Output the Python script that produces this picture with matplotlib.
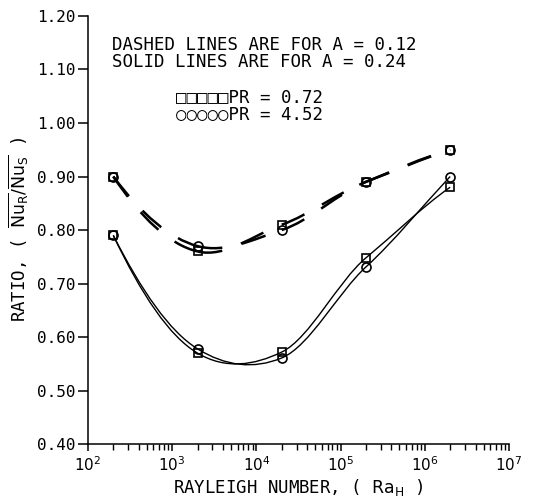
import numpy as np
import matplotlib.pyplot as plt
from matplotlib.path import Path
from matplotlib.patches import PathPatch
from matplotlib.ticker import FixedLocator, LogLocator, NullFormatter

plt.rcParams['font.family'] = ['DejaVu Sans Mono', 'DejaVu Sans']
plt.rcParams['mathtext.fontset'] = 'dejavusans'

# Rayleigh numbers of the runs
ra = [2e2, 2e3, 2e4, 2e5, 2e6]

# A = 0.12 (dashed)
dash_pr072 = [0.90, 0.76, 0.81, 0.89, 0.95]
dash_pr452 = [0.90, 0.77, 0.80, 0.89, 0.95]
# A = 0.24 (solid)
solid_pr072 = [0.79, 0.570, 0.572, 0.748, 0.880]
solid_pr452 = [0.79, 0.578, 0.561, 0.731, 0.900]

yticks = [0.40, 0.50, 0.60, 0.70, 0.80, 0.90, 1.00, 1.10, 1.20]
xticks = [1e2, 1e3, 1e4, 1e5, 1e6, 1e7]
xlabels = ['$10^{2}$', '$10^{3}$', '$10^{4}$', '$10^{5}$', '$10^{6}$', '$10^{7}$']


def smooth_curve(x, y, k=0.85):
    # hermite curve in log10(x) as bezier pieces; each piece is its own
    # subpath so the dash pattern restarts at every data point
    u = np.log10(x)
    y = np.asarray(y, dtype=float)
    d = np.diff(y) / np.diff(u)
    m = np.zeros_like(y)
    m[1:-1] = k * (d[:-1] + d[1:]) / 2
    m[0] = (3 * d[0] - d[1]) / 2
    m[-1] = (3 * d[-1] - d[-2]) / 2
    verts, codes = [], []
    for i in range(len(x) - 1):
        h = u[i + 1] - u[i]
        verts.append((x[i], y[i]))
        verts.append((10 ** (u[i] + h / 3), y[i] + m[i] * h / 3))
        verts.append((10 ** (u[i + 1] - h / 3), y[i + 1] - m[i + 1] * h / 3))
        verts.append((x[i + 1], y[i + 1]))
        codes += [Path.MOVETO] + [Path.CURVE4] * 3
    return Path(verts, codes)


fig = plt.figure(figsize=(5.33, 4.99), dpi=100)
ax = fig.add_axes([0.165, 0.110, 0.790, 0.858])
ax.set_xscale('log')
ax.set_xlim(1e2, 1e7)
ax.set_ylim(0.40, 1.20)

dashed = dict(linestyle=(0, (10, 8)), linewidth=1.8)
solid = dict(linestyle='-', linewidth=1.0)
for vals, style in [(dash_pr072, dashed), (dash_pr452, dashed),
                    (solid_pr072, solid), (solid_pr452, solid)]:
    ax.add_patch(PathPatch(smooth_curve(ra, vals), facecolor='none',
                           edgecolor='black', capstyle='butt', **style))

mk = dict(linestyle='none', color='black', markerfacecolor='none', markeredgewidth=1.2)
ax.plot(ra, dash_pr072, marker='s', markersize=6, **mk)
ax.plot(ra, solid_pr072, marker='s', markersize=6, **mk)
ax.plot(ra, dash_pr452, marker='o', markersize=6.5, **mk)
ax.plot(ra, solid_pr452, marker='o', markersize=6.5, **mk)

for s in ['top', 'right']:
    ax.spines[s].set_visible(False)
for s in ['left', 'bottom']:
    ax.spines[s].set_linewidth(1.1)

ax.yaxis.set_major_locator(FixedLocator(yticks))
ax.set_yticklabels(['%.2f' % v for v in yticks], fontsize=11.5)
ax.xaxis.set_major_locator(FixedLocator(xticks))
ax.set_xticklabels(xlabels, fontsize=11)
ax.xaxis.set_minor_locator(LogLocator(base=10, subs=np.arange(2, 10)))
ax.xaxis.set_minor_formatter(NullFormatter())
ax.tick_params(axis='y', direction='out', length=7, width=1.1, pad=2)
ax.tick_params(axis='x', which='major', direction='out', length=5, width=1.1, pad=3)
ax.tick_params(axis='x', which='minor', direction='out', length=4, width=1.0)

ax.set_xlabel(r'RAYLEIGH NUMBER, ( $\mathrm{Ra_H}$ )', fontsize=12.5, labelpad=2)
ax.set_ylabel(r'RATIO, ( $\overline{\mathrm{Nu_R}}/\overline{\mathrm{Nu_S}}$ )',
              fontsize=12.5, labelpad=5)

ax.text(0.057, 0.912, 'DASHED LINES ARE FOR A = 0.12\nSOLID LINES ARE FOR A = 0.24',
        transform=ax.transAxes, fontsize=12.5, va='center', ha='left', linespacing=0.95)
ax.text(0.210, 0.790, '\u25a1\u25a1\u25a1\u25a1\u25a1PR = 0.72\n\u25cb\u25cb\u25cb\u25cb\u25cbPR = 4.52',
        transform=ax.transAxes, fontsize=12.5, va='center', ha='left', linespacing=0.95)

fig.savefig('out.png', dpi=100)
